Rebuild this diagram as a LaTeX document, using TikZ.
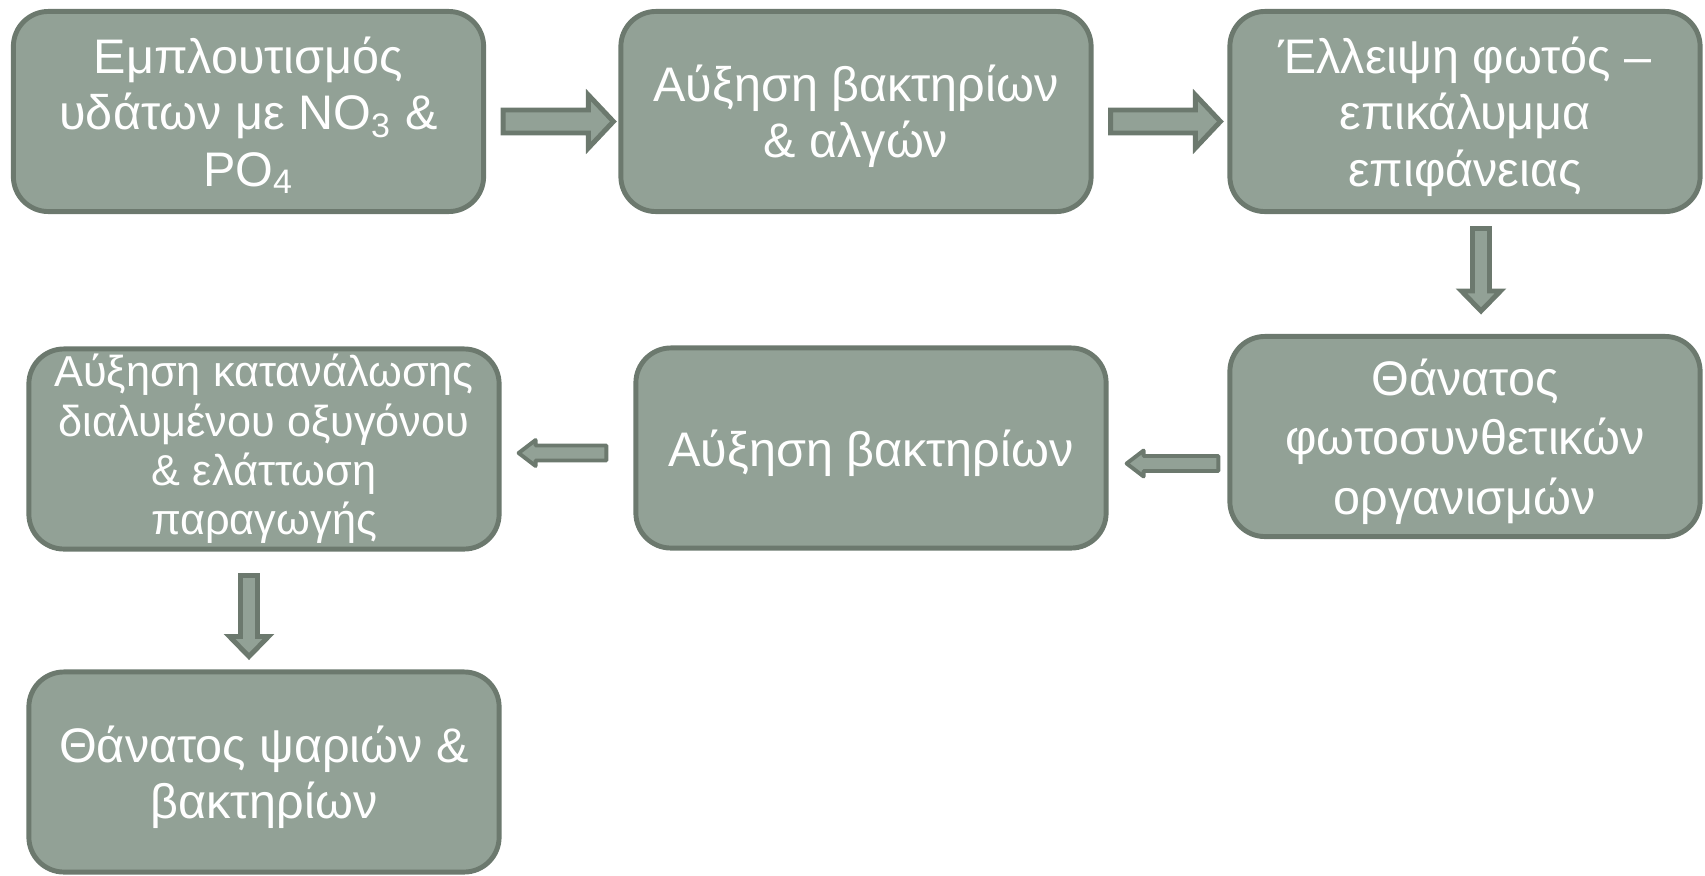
\documentclass[tikz,border=0pt]{standalone}
\usepackage{fontspec}
\setmainfont{Liberation Sans}
\usetikzlibrary{calc}

\definecolor{boxfill}{HTML}{92A196}
\definecolor{boxline}{HTML}{6C796E}

% block arrow: [style]{from}{to}{shaft half width}{head half width}{head length}
\newcommand{\blockarrow}[6][]{%
  \coordinate (hb) at ($(#3)!#6!(#2)$);
  \draw[flowarrow,#1] ($(#2)!#4!90:(#3)$) -- ($(hb)!#4!-90:(#2)$) -- ($(hb)!#5!-90:(#2)$)
    -- (#3) -- ($(hb)!#5!90:(#2)$) -- ($(hb)!#4!90:(#2)$) -- ($(#2)!#4!-90:(#3)$) -- cycle;
}

\tikzset{
  stage/.style={draw=boxline, fill=boxfill, line width=1.4pt, rounded corners=0.35cm,
    minimum width=4.7cm, minimum height=2cm, inner sep=0pt, align=center, text=white,
    text depth=0pt, font=\fontsize{13.8}{16}\selectfont},
  flowarrow/.style={draw=boxline, fill=boxfill, line width=1.4pt},
  thinarrow/.style={line width=1.1pt, line join=round}
}

\begin{document}
\begin{tikzpicture}[x=0.01cm, y=-0.01cm]
    \useasboundingbox (0,0) rectangle (1705,875);

    \node[stage] (enrich) at (248.5,111.5) {Εμπλουτισμός\\υδάτων με NO\textsubscript{3} \&\\PO\textsubscript{4}};
    \node[stage] (growth) at (856,111.5) {Αύξηση βακτηρίων\\\& αλγών};
    \node[stage] (shade) at (1465,111.5) {Έλλειψη φωτός –\\επικάλυμμα\\επιφάνειας};
    \node[stage, font=\fontsize{13.8}{17}\selectfont] (death) at (1465,436.5) {Θάνατος\\φωτοσυνθετικών\\οργανισμών};
    \node[stage] (bact) at (871,448) {Αύξηση βακτηρίων};
    \node[stage, text depth=, font=\fontsize{12.3}{14}\selectfont] (oxygen) at (264,449)
        {Αύξηση κατανάλωσης\\διαλυμένου οξυγόνου\\\& ελάττωση\\παραγωγής};
    \node[stage] (fish) at (264,772) {Θάνατος ψαριών \&\\βακτηρίων};

    % connectors
    \coordinate (a1s) at ($(enrich.east)+(17,10)$);
    \coordinate (a1e) at ($(a1s -| growth.west)+(-5,0)$);
    \blockarrow{a1s}{a1e}{0.115cm}{0.265cm}{0.25cm}

    \coordinate (a2s) at ($(growth.east)+(17,10)$);
    \coordinate (a2e) at ($(a2s -| shade.west)+(-7,0)$);
    \blockarrow{a2s}{a2e}{0.115cm}{0.265cm}{0.25cm}

    \coordinate (a3s) at ($(shade.south)+(16,14.5)$);
    \coordinate (a3e) at ($(a3s |- death.north)+(0,-23)$);
    \blockarrow{a3s}{a3e}{0.085cm}{0.195cm}{0.2cm}

    \coordinate (a4s) at ($(death.west)+(-9,27)$);
    \coordinate (a4e) at ($(a4s -| bact.east)+(18,0)$);
    \blockarrow[thinarrow]{a4s}{a4e}{0.075cm}{0.13cm}{0.17cm}

    \coordinate (a5s) at ($(bact.west)+(-27,5)$);
    \coordinate (a5e) at ($(a5s -| oxygen.east)+(17,0)$);
    \blockarrow[thinarrow]{a5s}{a5e}{0.075cm}{0.13cm}{0.17cm}

    \coordinate (a6s) at ($(oxygen.south)+(-15,24)$);
    \coordinate (a6e) at ($(a6s |- fish.north)+(0,-13)$);
    \blockarrow{a6s}{a6e}{0.085cm}{0.195cm}{0.2cm}

\end{tikzpicture}
\end{document}
